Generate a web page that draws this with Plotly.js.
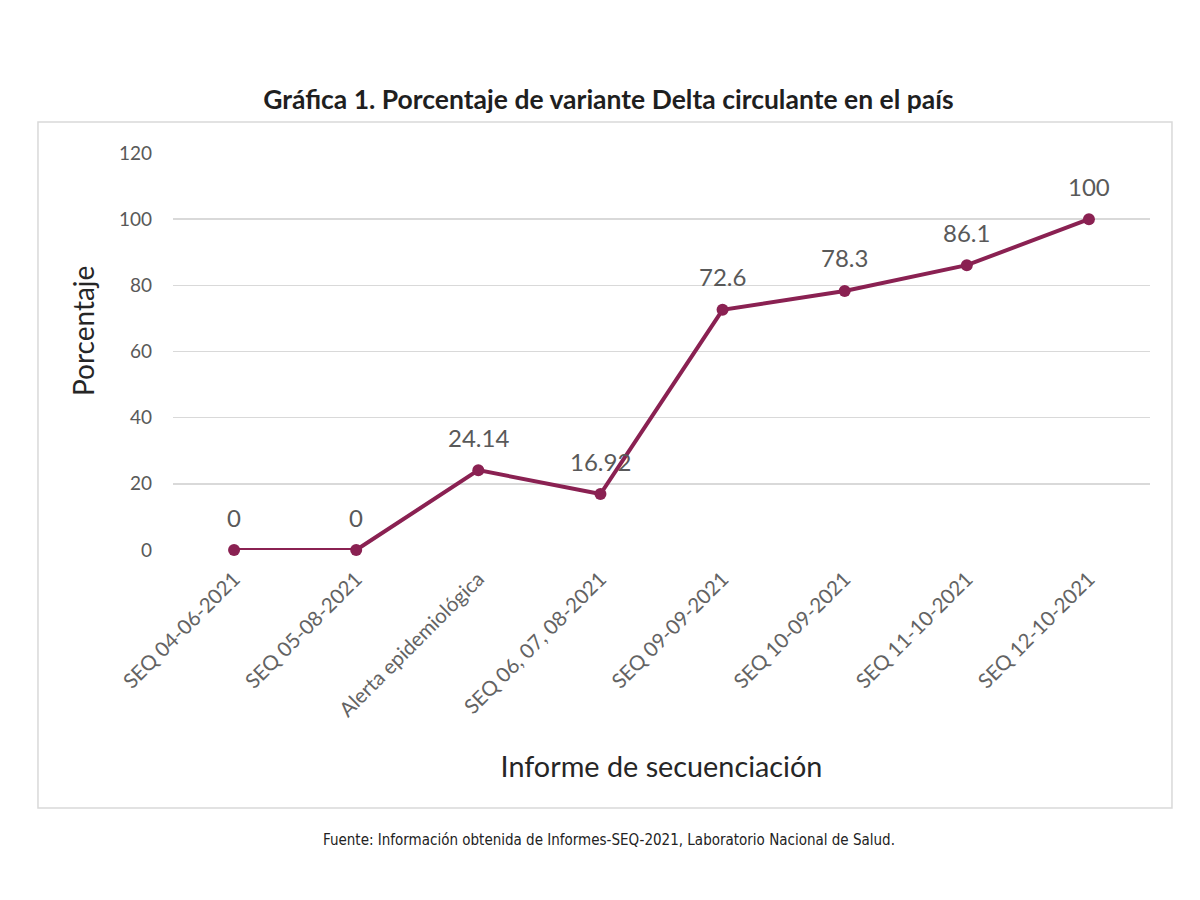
<!DOCTYPE html>
<html>
<head>
<meta charset="utf-8">
<script src="https://cdn.plot.ly/plotly-3.0.1.min.js"></script>
<style>
  html, body { margin: 0; padding: 0; background: #ffffff; }
  #chart { width: 1200px; height: 900px; }
</style>
</head>
<body>
<div id="chart"></div>
<script>
const categories = [
  "SEQ 04-06-2021",
  "SEQ 05-08-2021",
  "Alerta epidemiológica",
  "SEQ 06, 07, 08-2021",
  "SEQ 09-09-2021",
  "SEQ 10-09-2021",
  "SEQ 11-10-2021",
  "SEQ 12-10-2021"
];
const percentages = [0, 0, 24.14, 16.92, 72.6, 78.3, 86.1, 100];
const valueLabels = ["0", "0", "24.14", "16.92", "72.6", "78.3", "86.1", "100"];
const yTicks = [0, 20, 40, 60, 80, 100, 120];

const lineColor = "#8a2152";
const textGray = "#595959";
const fontFamily = "Lato, 'Open Sans', sans-serif";

const trace = {
  type: "scatter",
  mode: "lines+markers",
  x: categories,
  y: percentages,
  line: { color: lineColor, width: 4 },
  marker: { color: lineColor, size: 12 },
  hoverinfo: "skip",
  cliponaxis: false
};

const labelAnnotations = categories.map((c, i) => ({
  x: c,
  y: percentages[i],
  xref: "x",
  yref: "y",
  text: valueLabels[i],
  showarrow: false,
  yanchor: "middle",
  yshift: 33,
  font: { family: fontFamily, size: 24, color: textGray }
}));

const layout = {
  width: 1200,
  height: 900,
  paper_bgcolor: "#ffffff",
  plot_bgcolor: "#ffffff",
  margin: { l: 173, r: 50, t: 153, b: 350 },
  showlegend: false,
  title: {
    text: "<b>Gráfica 1. Porcentaje de variante Delta circulante en el país</b>",
    x: 0.507,
    xanchor: "center",
    y: 0.889,
    yanchor: "middle",
    font: { family: fontFamily, size: 26.5, color: "#1f1f1f" }
  },
  xaxis: {
    type: "category",
    range: [-0.5, 7.5],
    tickangle: -45,
    showgrid: false,
    zeroline: false,
    showline: false,
    ticks: "",
    ticklabelstandoff: 12,
    tickfont: { family: fontFamily, size: 20.5, color: "#636363" },
    title: {
      text: "Informe de secuenciación",
      font: { family: fontFamily, size: 28.8, color: "#262626" },
      standoff: 36
    }
  },
  yaxis: {
    range: [0, 120],
    tickvals: yTicks,
    showgrid: true,
    gridcolor: "#d9d9d9",
    gridwidth: 1.5,
    zeroline: false,
    showline: false,
    ticks: "",
    ticklabelstandoff: 20,
    tickfont: { family: fontFamily, size: 19, color: textGray }
  },
  shapes: [
    {
      type: "rect",
      xref: "paper", yref: "paper",
      x0: -0.1382, x1: 1.0225, y0: -0.650, y1: 1.078,
      line: { color: "#d9d9d9", width: 1.5 },
      fillcolor: "rgba(0,0,0,0)",
      layer: "below"
    }
  ],
  annotations: labelAnnotations.concat([
    {
      xref: "paper", yref: "paper",
      x: -0.0921, y: 0.5517,
      xanchor: "center", yanchor: "middle",
      textangle: -90,
      text: "Porcentaje",
      showarrow: false,
      font: { family: fontFamily, size: 28, color: "#262626" }
    },
    {
      xref: "paper", yref: "paper",
      x: 0.446, y: -0.730,
      xanchor: "center", yanchor: "middle",
      text: "Fuente: Información obtenida de Informes-SEQ-2021, Laboratorio Nacional de Salud.",
      showarrow: false,
      font: { family: "'Liberation Sans Narrow', 'DejaVu Sans Condensed', sans-serif", size: 15, color: "#222222" }
    }
  ])
};

Plotly.newPlot("chart", [trace], layout, { displayModeBar: false, staticPlot: true });
</script>
</body>
</html>
